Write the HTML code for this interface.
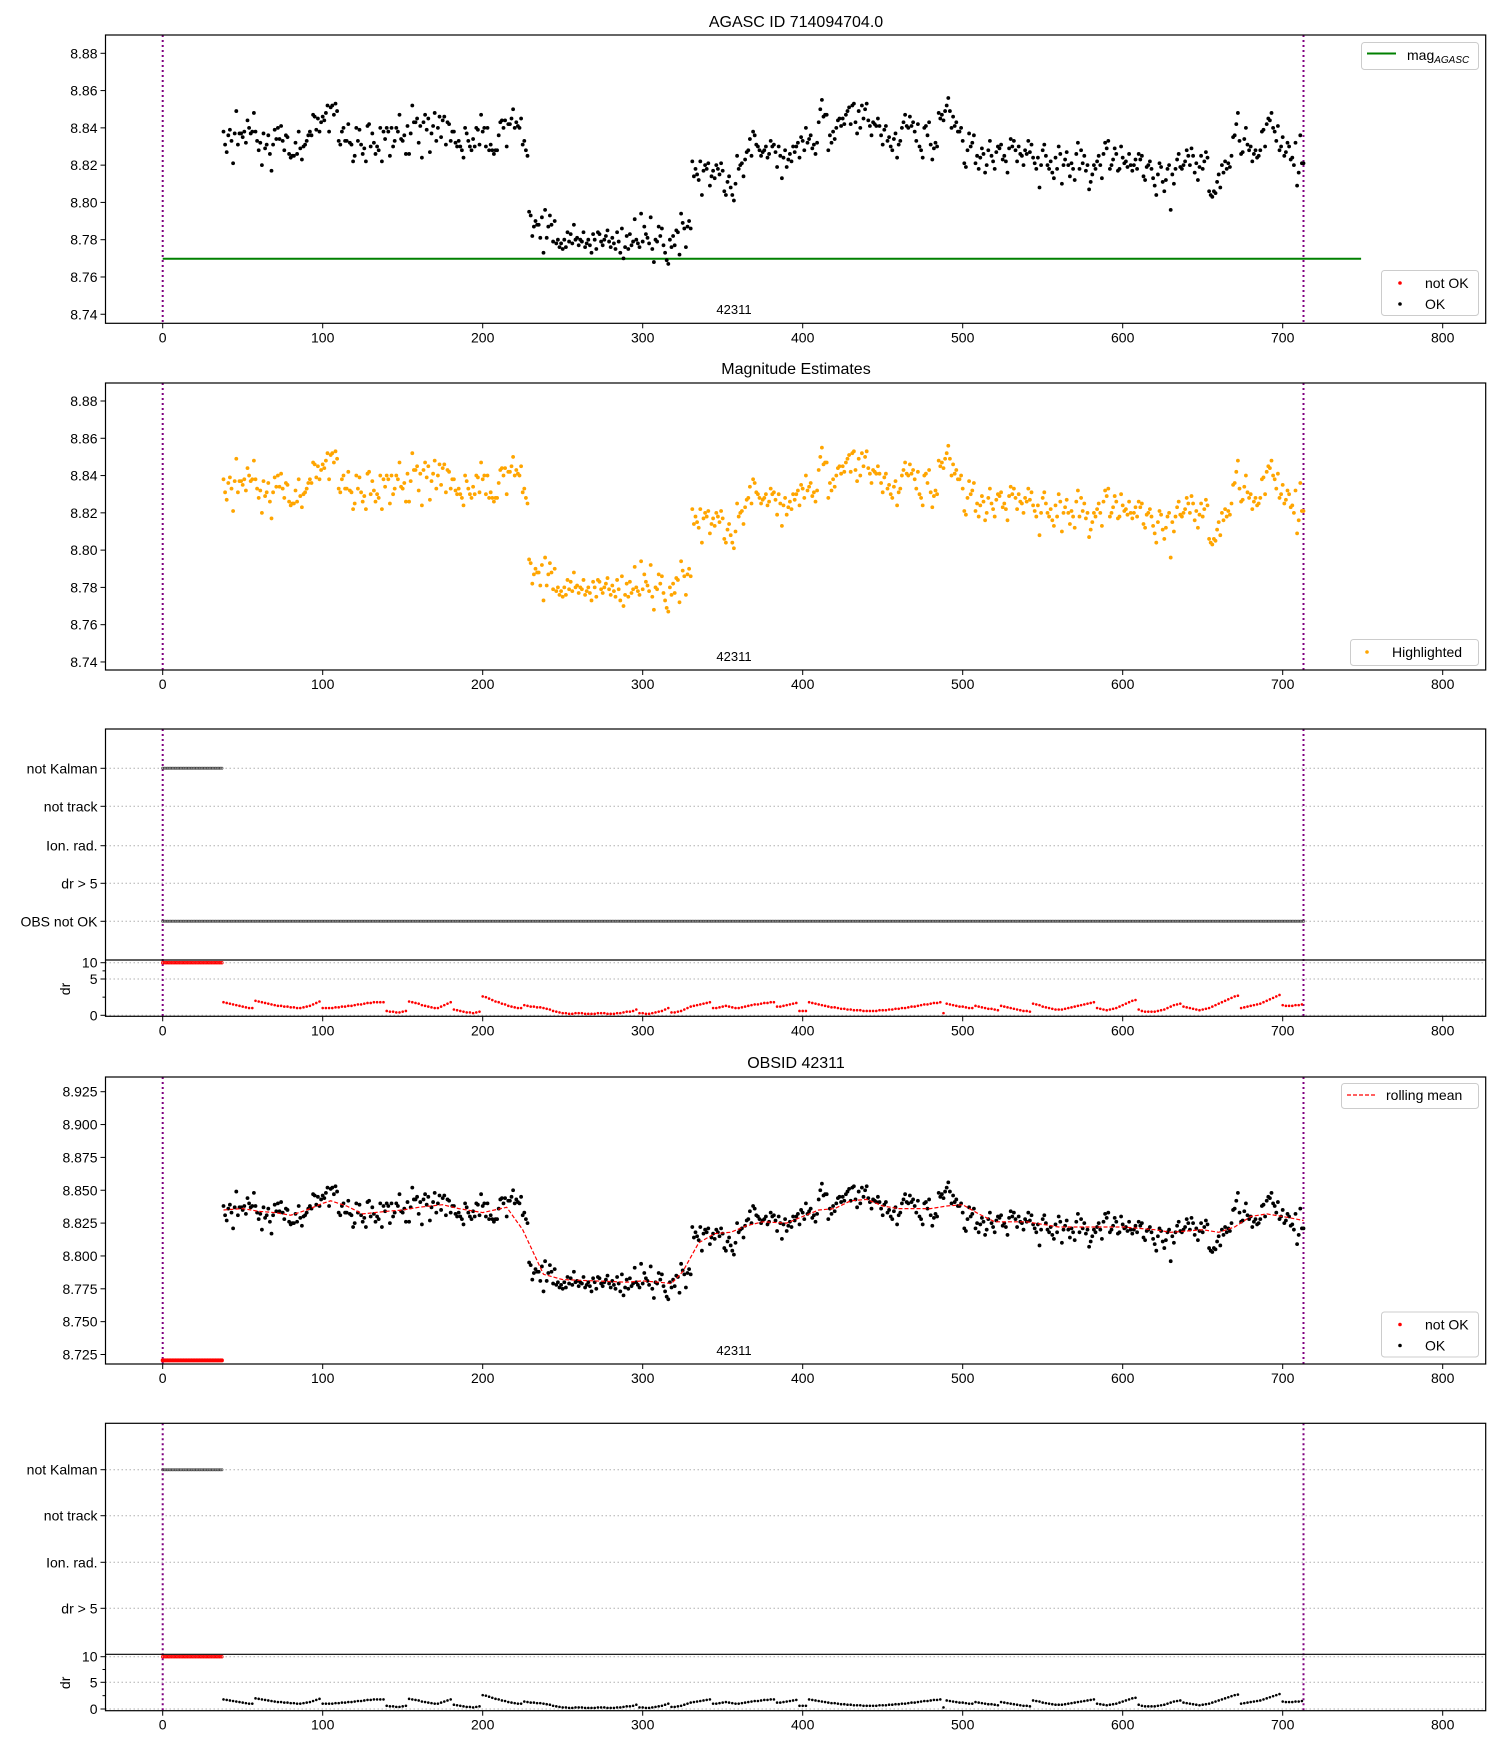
<!DOCTYPE html>
<html><head><meta charset="utf-8">
<style>
html,body{margin:0;padding:0;background:#fff;}
svg{display:block;font-family:"Liberation Sans","DejaVu Sans",sans-serif;}
</style></head>
<body>
<svg id="fig" width="1500" height="1750" viewBox="0 0 1500 1750" xmlns="http://www.w3.org/2000/svg"></svg>
<script>
// ---------- data ----------
const xStart = 38;
const magMilli = [ // magnitude = 8.7 + v/1000, one per time index starting at xStart
138,131,127,136,139,133,121,137,149,131,137,137,135,138,132,144,140,137,138,148,
138,133,128,132,120,137,129,131,136,126,117,131,139,134,140,134,141,133,128,136,
135,126,124,125,125,132,126,138,129,123,130,131,133,136,138,136,147,146,139,145,
138,143,146,144,148,152,138,151,152,147,153,149,133,131,138,140,133,133,142,132,
131,122,125,140,133,139,131,126,129,122,141,142,130,137,132,126,130,128,140,122,
138,134,140,138,125,140,130,133,140,138,147,134,133,136,126,141,126,137,152,143,
143,145,132,141,124,143,147,139,145,127,137,141,148,133,140,146,135,144,146,131,
143,142,133,138,138,132,130,133,130,128,124,140,137,133,130,128,134,130,140,139,
131,147,138,140,130,140,128,131,128,126,128,128,136,143,144,140,144,130,142,142,
145,150,140,143,141,140,145,131,133,128,125,95,93,82,87,90,88,88,81,92,
73,96,81,87,93,88,79,90,78,80,76,78,75,80,76,84,79,83,78,88,
80,81,77,80,79,84,76,78,80,77,73,83,80,75,84,83,79,77,80,82,
85,79,76,81,78,75,84,79,73,86,70,76,82,75,83,77,79,91,80,78,
76,94,79,87,83,81,78,92,75,68,80,79,87,82,86,77,73,69,67,80,
76,82,77,85,84,72,94,89,86,76,87,90,86,122,114,118,115,112,122,104,
117,120,118,121,109,114,117,113,120,118,115,121,117,106,104,111,114,108,104,101,
110,125,118,120,121,114,123,127,128,134,125,138,136,131,130,128,125,127,128,130,
124,126,133,130,131,127,119,130,125,113,124,128,119,123,126,122,130,127,130,132,
124,135,133,128,140,132,134,136,129,131,126,132,143,150,155,146,147,147,128,136,
132,138,134,140,144,145,141,145,142,147,149,151,142,152,153,143,137,149,140,152,
145,150,153,144,141,136,143,142,141,145,141,136,131,139,141,133,135,130,128,134,
137,124,131,133,140,143,147,141,140,146,141,143,138,133,142,130,128,124,140,141,
136,143,131,123,129,132,130,148,145,147,144,149,152,156,149,140,146,141,143,138,
138,140,133,121,119,128,137,130,132,136,121,125,118,124,129,126,116,120,128,133,
125,122,118,127,130,129,131,123,125,122,116,129,134,130,133,128,122,130,126,125,
120,128,126,133,127,131,124,121,118,124,108,120,128,131,125,120,118,122,116,113,
124,118,130,126,110,120,123,127,120,114,121,118,112,126,132,118,128,121,125,117,
120,107,111,115,120,118,122,125,120,113,126,132,129,133,118,120,123,129,126,117,
118,130,124,121,122,119,126,120,117,120,123,118,126,123,125,114,112,119,120,122,
118,113,109,104,115,121,119,111,106,112,118,120,96,115,110,118,123,126,119,118,
120,122,128,125,120,129,125,116,121,112,119,125,118,122,127,124,106,104,103,106,
105,111,115,108,120,116,122,118,121,119,125,135,136,142,148,133,126,127,134,140,
131,128,130,122,126,128,124,125,128,138,139,130,142,145,144,148,140,138,133,141,
128,130,135,125,127,132,130,123,124,120,132,109,116,136,121,121];
const rollU = [38,50,60,70,80,90,100,105,115,125,140,150,160,175,185,200,215,225,238,250,270,290,300,310,318,325,335,345,355,365,375,390,400,410,420,430,440,450,460,470,480,490,500,510,520,540,550,560,580,600,620,630,650,660,670,680,690,700,713];
const rollV = [8.835,8.836,8.834,8.833,8.831,8.835,8.840,8.842,8.838,8.832,8.834,8.835,8.837,8.839,8.836,8.833,8.837,8.820,8.786,8.782,8.781,8.780,8.781,8.780,8.779,8.788,8.810,8.817,8.818,8.823,8.826,8.825,8.830,8.835,8.836,8.842,8.843,8.838,8.836,8.836,8.836,8.838,8.839,8.832,8.826,8.826,8.824,8.822,8.822,8.822,8.820,8.818,8.820,8.818,8.822,8.830,8.832,8.830,8.827];
const drStep = 2;
const drVals = [
1.8,1.7,1.6,1.5,1.4,1.3,1.2,1.1,1.0,1.0,2.0,1.9,1.8,1.7,1.6,1.5,1.4,1.3,1.3,1.2,
1.2,1.1,1.1,1.0,1.0,1.1,1.2,1.3,1.5,1.7,1.9,1.0,1.0,1.0,1.0,1.1,1.1,1.2,1.2,1.3,
1.3,1.4,1.5,1.5,1.6,1.7,1.7,1.8,1.8,1.8,1.8,0.6,0.5,0.5,0.4,0.4,0.5,0.6,1.9,1.8,
1.7,1.6,1.4,1.3,1.2,1.1,1.0,1.0,1.2,1.4,1.6,1.8,0.8,0.7,0.6,0.5,0.4,0.4,0.3,0.4,
0.5,2.6,2.5,2.3,2.1,1.9,1.8,1.6,1.5,1.3,1.2,1.1,1.0,1.0,1.4,1.3,1.2,1.2,1.1,1.1,
1.0,0.9,0.8,0.6,0.5,0.4,0.3,0.3,0.2,0.2,0.3,0.3,0.3,0.2,0.2,0.2,0.2,0.3,0.3,0.3,
0.2,0.2,0.2,0.3,0.3,0.4,0.5,0.5,0.6,0.8,0.3,0.3,0.2,0.2,0.3,0.4,0.5,0.6,0.8,1.0,
0.4,0.4,0.5,0.6,0.8,1.0,1.2,1.3,1.4,1.5,1.6,1.7,1.8,1.0,1.0,1.1,1.2,1.3,1.2,1.1,
1.0,1.0,1.1,1.2,1.3,1.4,1.5,1.5,1.6,1.7,1.7,1.8,1.8,1.2,1.2,1.3,1.4,1.5,1.6,1.7,
0.6,0.6,0.6,1.8,1.7,1.6,1.5,1.4,1.3,1.2,1.1,1.1,1.0,0.9,0.9,0.8,0.8,0.7,0.7,0.7,
0.6,0.6,0.6,0.6,0.6,0.7,0.7,0.7,0.8,0.8,0.9,0.9,1.0,1.0,1.1,1.2,1.2,1.3,1.4,1.5,
1.5,1.6,1.7,1.7,1.8,0.3,1.6,1.5,1.4,1.3,1.2,1.2,1.1,1.0,1.0,1.3,1.2,1.1,1.0,0.9,
0.9,0.8,0.7,1.3,1.2,1.1,1.0,0.9,0.8,0.7,0.6,0.6,0.5,1.6,1.5,1.4,1.2,1.1,1.0,0.9,
0.8,0.8,0.8,0.9,1.0,1.1,1.2,1.3,1.4,1.5,1.6,1.7,1.8,1.0,0.9,0.8,0.7,0.8,0.9,1.0,
1.2,1.4,1.6,1.8,2.0,2.1,0.8,0.6,0.5,0.5,0.5,0.5,0.6,0.7,0.8,1.0,1.2,1.4,1.5,1.6,
1.2,1.1,1.0,0.9,0.8,0.7,0.8,0.9,1.0,1.2,1.4,1.6,1.8,2.0,2.2,2.4,2.6,2.7,1.0,1.1,
1.2,1.3,1.4,1.5,1.6,1.8,2.0,2.2,2.4,2.6,2.8,1.4,1.3,1.3,1.3,1.4,1.4,1.5];
const badStart = 0, badEnd = 37;
const obsEnd = 713;
const agascMag = 8.7698;
const agascEnd = 749;
const xTicks = [0,100,200,300,400,500,600,700,800];
const magTicks1 = ["8.74","8.76","8.78","8.80","8.82","8.84","8.86","8.88"];
const magTicks4 = ["8.725","8.750","8.775","8.800","8.825","8.850","8.875","8.900","8.925"];
const flagLabels = ["not Kalman","not track","Ion. rad.","dr > 5","OBS not OK"];
const drTicks = [0,5,10];

// ---------- helpers ----------
const NS = "http://www.w3.org/2000/svg";
const svg = document.getElementById("fig");
function mk(tag, attrs, parent){
  const e = document.createElementNS(NS, tag);
  for (const k in attrs) e.setAttribute(k, attrs[k]);
  (parent||svg).appendChild(e);
  return e;
}
const L = 105.5, R = 1485.7;
function xMap(u){ return 162.7 + 1.6*u; }
function magMap(top1, v0, scale){ return v => top1 + (v0 - v)*scale; }
function txt(x,y,s,size,anchor,parent){
  const t = mk("text",{x:x,y:y,"font-size":size,"text-anchor":anchor||"middle",fill:"#000"},parent);
  t.textContent = s; return t;
}
function frame(top,bottom,name){
  const g = mk("g",{});
  
  
  return g;
}
function xAxis(g,bottom){
  const ax = mk("g",{},g);
  
  
  xTicks.forEach(t=>{
    const x = xMap(t);
    mk("line",{x1:x,x2:x,y1:bottom,y2:bottom+5,stroke:"#000","stroke-width":1},ax);
    const lb = txt(x,bottom+19,String(t),14,"middle",ax);
    
    
  });
}
function border(g,top,bottom){
  mk("rect",{x:L,y:top,width:R-L,height:bottom-top,fill:"none",stroke:"#000","stroke-width":1.2},g);
}
function vlines(g,top,bottom){
  [0,obsEnd].forEach(u=>{
    const l = mk("line",{x1:xMap(u),x2:xMap(u),y1:top,y2:bottom,stroke:"#800080","stroke-width":2,"stroke-dasharray":"2,3"},g);
    
    
  });
}
function magYAxis(g,ticks,ym){
  const ax = mk("g",{},g);
  
  
  ticks.forEach(s=>{
    const y = ym(parseFloat(s));
    mk("line",{x1:L-5,x2:L,y1:y,y2:y,stroke:"#000"},ax);
    const lb = txt(L-8,y+5,s,14,"end",ax);
    
    
  });
}
function scatterMag(g,ym,color){
  const sg = mk("g",{fill:color},g);
  
  
  magMilli.forEach((v,i)=>{
    mk("circle",{cx:xMap(xStart+i),cy:ym(8.7+v/1000),r:1.9},sg);
  });
}
function legendBox(g,x,y,w,h,name){
  const r = mk("rect",{x:x,y:y,width:w,height:h,rx:3,fill:"#fff","fill-opacity":0.8,stroke:"#ccc"},g);
  
  
}
function okLegend(g,y){
  legendBox(g,1381.5,y,97,45,"status-legend");
  mk("circle",{cx:1400,cy:y+12.5,r:1.8,fill:"red"},g);
  txt(1425,y+17.5,"not OK",14,"start",g);
  mk("circle",{cx:1400,cy:y+33.5,r:1.8,fill:"#000"},g);
  txt(1425,y+38.5,"OK",14,"start",g);
}

// ---------- Panel 1 ----------
(function(){
  const top=35,bottom=323.3;
  const g = frame(top,bottom,"agasc-panel");
  const ym = magMap(53.3,8.88,1864);
  vlines(g,top,bottom);
  const gl = mk("line",{x1:xMap(0),x2:xMap(agascEnd),y1:ym(agascMag),y2:ym(agascMag),stroke:"green","stroke-width":2},g);
  
  
  scatterMag(g,ym,"#000");
  txt(734,314,"42311",13,"middle",g);
  border(g,top,bottom);
  magYAxis(g,magTicks1,ym);
  xAxis(g,bottom);
  const t = txt(796,27,"AGASC ID 714094704.0",16,"middle",g);
  
  
  legendBox(g,1361.5,42.5,117,27,"agasc-legend");
  mk("line",{x1:1367,x2:1396,y1:53.5,y2:53.5,stroke:"green","stroke-width":2},g);
  const lt = mk("text",{x:1407,y:60,"font-size":14},g);
  lt.textContent = "mag";
  const sub = mk("tspan",{"font-size":10,"font-style":"italic",dy:3},lt);
  sub.textContent = "AGASC";
  okLegend(g,270.5);
})();

// ---------- Panel 2 ----------
(function(){
  const top=383,bottom=670;
  const g = frame(top,bottom,"magnitude-estimates-panel");
  const ym = magMap(401,8.88,1864);
  vlines(g,top,bottom);
  scatterMag(g,ym,"#ffa500");
  txt(734,661,"42311",13,"middle",g);
  border(g,top,bottom);
  magYAxis(g,magTicks1,ym);
  xAxis(g,bottom);
  const t = txt(796,374,"Magnitude Estimates",16,"middle",g);
  
  
  legendBox(g,1350.5,639.5,128,26,"highlight-legend");
  mk("circle",{cx:1367,cy:652,r:1.8,fill:"#ffa500"},g);
  txt(1392,657,"Highlighted",14,"start",g);
})();

// ---------- flag panels ----------
function flagPanel(top,divider,bottom,rows,drPix,drColor,withObs,name){
  const g = frame(top,bottom,name);
  rows.forEach((y,i)=>{
    mk("line",{x1:L,x2:R,y1:y,y2:y,stroke:"#b0b0b0","stroke-dasharray":"1.5,2.5"},g);
    mk("line",{x1:L-5,x2:L,y1:y,y2:y,stroke:"#000"},g);
    const lb = txt(L-8,y+5,flagLabels[i],14,"end",g);
    
    
  });
  const drY = v => v>=5 ? drPix[1] + (drPix[2]-drPix[1])*(v-5)/5 : drPix[0] + (drPix[1]-drPix[0])*v/5;
  drTicks.forEach((t,i)=>{
    const y = drPix[i];
    mk("line",{x1:L,x2:R,y1:y,y2:y,stroke:"#b0b0b0","stroke-dasharray":"1.5,2.5"},g);
    mk("line",{x1:L-5,x2:L,y1:y,y2:y,stroke:"#000"},g);
    const lb = txt(L-8,y+5,String(t),14,"end",g);
    
    
  });
  [2.5,7.5].forEach(t=>{
    const y = drY(t);
    mk("line",{x1:L-3,x2:L,y1:y,y2:y,stroke:"#000"},g);
  });
  const yl = mk("text",{x:0,y:0,"font-size":14,"text-anchor":"middle",transform:"translate(70,"+((drPix[0]+drPix[2])/2)+") rotate(-90)"},g);
  yl.textContent = "dr";
  
  
  vlines(g,top,bottom);
  const fk = mk("g",{fill:"none",stroke:"#444","stroke-width":0.6},g);
  
  
  for(let u=badStart;u<=badEnd;u++) mk("circle",{cx:xMap(u),cy:rows[0],r:1.2},fk);
  if(withObs){
    const fo = mk("g",{fill:"none",stroke:"#444","stroke-width":0.6},g);
    
    
    for(let u=0;u<=obsEnd;u++) mk("circle",{cx:xMap(u),cy:rows[4],r:1.2},fo);
  }
  const fb = mk("g",{fill:"none",stroke:"red","stroke-width":0.8},g);
  
  
  for(let u=badStart;u<=badEnd;u++) mk("circle",{cx:xMap(u),cy:drY(10),r:1.3},fb);
  const fd = mk("g",{fill:drColor},g);
  
  
  drVals.forEach((v,i)=>{
    mk("circle",{cx:xMap(xStart+i*drStep),cy:drY(v),r:1.3},fd);
  });
  border(g,top,bottom);
  mk("line",{x1:L,x2:R,y1:divider,y2:divider,stroke:"#000","stroke-width":1.2},g);
  xAxis(g,bottom);
}
flagPanel(729,960,1016.3,[768.3,806.3,845.7,883.3,921.3],[1015.3,979,962.7],"red",true,"flags-panel-1");
flagPanel(1423.3,1654.3,1710.7,[1469.7,1515.7,1562.3,1608.3],[1709,1682.3,1656.7],"#000",false,"flags-panel-2");

// ---------- Panel 4 ----------
(function(){
  const top=1077,bottom=1364;
  const g = frame(top,bottom,"obsid-panel");
  const ym = magMap(1091.7,8.925,1314);
  vlines(g,top,bottom);
  scatterMag(g,ym,"#000");
  const bad = mk("g",{fill:"red"},g);
  
  
  for(let u=badStart;u<=badEnd;u++) mk("circle",{cx:xMap(u),cy:ym(8.7205),r:2.0},bad);
  const pts = rollU.map((u,i)=>xMap(u).toFixed(1)+","+ym(rollV[i]).toFixed(1)).join(" ");
  const rl = mk("polyline",{points:pts,fill:"none",stroke:"red","stroke-width":1.2,"stroke-dasharray":"4,2"},g);
  
  
  txt(734,1355,"42311",13,"middle",g);
  border(g,top,bottom);
  magYAxis(g,magTicks4,ym);
  xAxis(g,bottom);
  const t = txt(796,1068,"OBSID 42311",16,"middle",g);
  
  
  legendBox(g,1341.5,1083.5,137,25,"rolling-mean-legend");
  mk("line",{x1:1347,x2:1375,y1:1095,y2:1095,stroke:"red","stroke-width":1.2,"stroke-dasharray":"4,2"},g);
  txt(1386,1100,"rolling mean",14,"start",g);
  okLegend(g,1312);
})();
</script>
</body></html>
